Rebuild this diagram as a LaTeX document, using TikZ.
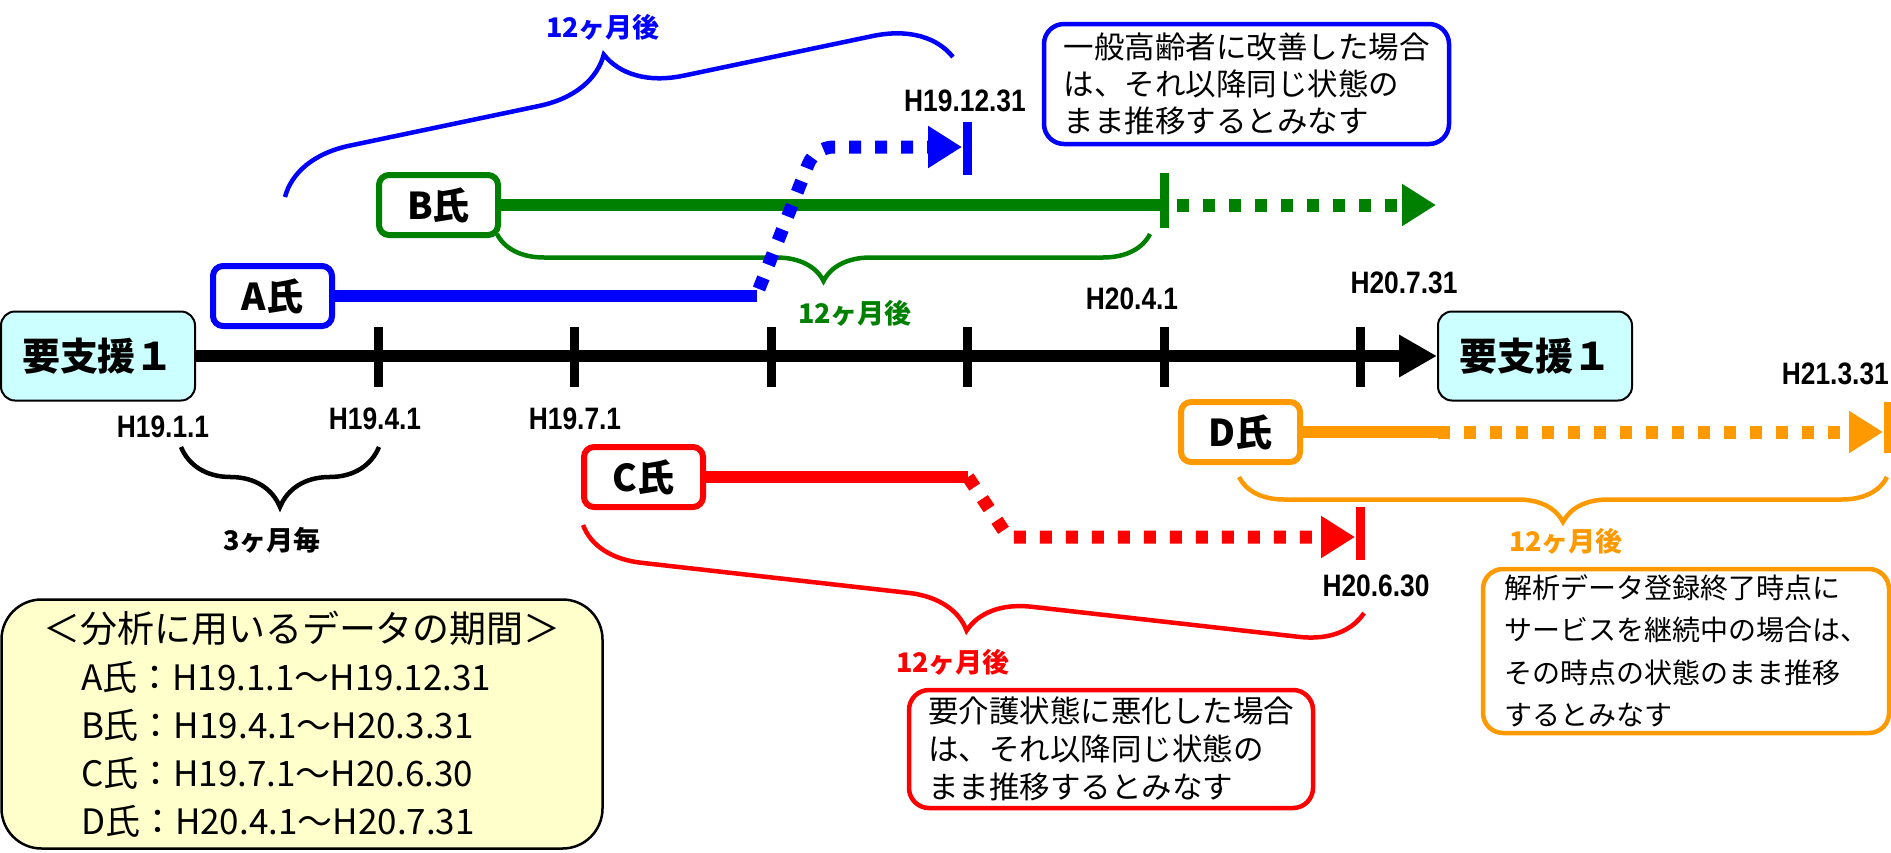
\documentclass[tikz,border=0pt]{standalone}
\usepackage{fontspec}
\setmainfont{Noto Sans CJK JP}
\newfontfamily\tickfont{Liberation Sans}[FakeStretch=0.85]
\usetikzlibrary{arrows.meta,decorations.pathreplacing}
\definecolor{cblue}{HTML}{0000FF}
\definecolor{cgreen}{HTML}{008000}
\definecolor{cred}{HTML}{FF0000}
\definecolor{corange}{HTML}{FF9900}
\definecolor{ccyan}{HTML}{CCFFFF}
\definecolor{cyellow}{HTML}{FFFFCC}
\tikzset{
  statebox/.style={draw=black,line width=2pt,fill=ccyan,rounded corners=14pt,
    minimum width=194pt,minimum height=89pt,inner sep=0pt,
    font=\fontsize{38}{40}\selectfont\bfseries},
  personbox/.style={draw=#1,line width=6pt,fill=white,rounded corners=10pt,
    minimum width=119pt,minimum height=60pt,inner sep=0pt,
    font=\fontsize{37}{38}\selectfont\bfseries},
  notebox/.style={draw=#1,line width=4.5pt,fill=white,rounded corners=20pt,
    inner sep=0pt,align=left,text=black},
  datelabel/.style={font=\tickfont\fontsize{31}{33}\selectfont\bfseries,inner sep=0pt},
  spanlabel/.style={text=#1,font=\fontsize{27}{29}\selectfont\bfseries,inner sep=0pt},
  timeline/.style={draw=black,line width=12pt},
  ticktimeline/.style={draw=black,line width=9pt},
  solidbar/.style={draw=#1,line width=12pt},
  dotbar/.style={draw=#1,line width=13pt,dash pattern=on 12pt off 14pt},
  endtick/.style={draw=#1,line width=9pt},
  curly/.style 2 args={draw=#1,line width=4.5pt,decorate,decoration={brace,amplitude=#2}},
  endarrow/.style={-{Triangle[length=34pt,width=40pt]}},
}
\begin{document}
\begin{tikzpicture}[x=1pt,y=-1pt]
\useasboundingbox (0,0) rectangle (1891,852);

% braces
\draw[curly={cblue}{74pt}] (285,197) -- (953,57);
\draw[curly={cgreen}{47pt}] (1150,234) -- (497,234);
\draw[curly={black}{60pt}] (379,447) -- (181,447);
\draw[curly={cred}{62pt}] (1364,613) -- (583,525);
\draw[curly={corange}{45pt}] (1887,477) -- (1239,477);

% brace labels
\node[spanlabel=cblue] (lb1) at (603,27) {12ヶ月後};
\node[spanlabel=cgreen] (lb2) at (855,313) {12ヶ月後};
\node[spanlabel=cred] (lb3) at (953,662) {12ヶ月後};
\node[spanlabel=corange] (lb4) at (1566,541) {12ヶ月後};
\node[spanlabel=black] (lb0) at (272,540) {3ヶ月毎};

% state boxes and time axis
\node[statebox] (lstate) at (98,356) {要支援１};
\node[statebox] (rstate) at (1535,356) {要支援１};
\draw[timeline,-{Triangle[length=38pt,width=40pt]}] (lstate.east) -- (rstate.west);
\foreach \x in {378,574,771,967,1164,1360}
  \draw[ticktimeline] (\x,327) -- (\x,387);

% date labels
\node[datelabel] (d1) at (163,427) {H19.1.1};
\node[datelabel] (d2) at (375,419) {H19.4.1};
\node[datelabel] (d3) at (575,419) {H19.7.1};
\node[datelabel] (d4) at (1132,299) {H20.4.1};
\node[datelabel] (d5) at (1404,283) {H20.7.31};
\node[datelabel] (d6) at (965,101) {H19.12.31};
\node[datelabel] (d7) at (1376,586) {H20.6.30};
\node[datelabel,anchor=east] (d8) at (1889,374) {H21.3.31};

% persons
\node[personbox=cblue] (pa) at (272.5,296) {A氏};
\node[personbox=cgreen] (pb) at (438.5,205) {B氏};
\node[personbox=cred] (pc) at (643.5,477) {C氏};
\node[personbox=corange] (pd) at (1240.5,432) {D氏};

% B
\coordinate (bend) at (1164,205);
\coordinate (bdot) at (1177,205);
\coordinate (btip) at (1436,205);
\draw[solidbar=cgreen] (pb.east) -- (bend);
\draw[endtick=cgreen] (1164,173) -- (1164,228);
\draw[dotbar=cgreen,endarrow] (bdot) -- (btip);

% A
\coordinate (aend) at (757,296);
\coordinate (adot) at (759,289);
\coordinate (abend) at (815,147);
\coordinate (atip) at (962,147);
\draw[solidbar=cblue] (pa.east) -- (aend);
\draw[dotbar=cblue,rounded corners=18pt,endarrow] (adot) -- (abend) -- (atip);
\draw[endtick=cblue] (967,122) -- (967,175);

% C
\coordinate (cend) at (968,477);
\coordinate (cbend) at (1008,537);
\coordinate (ctip) at (1355,537);
\draw[solidbar=cred] (pc.east) -- (cend);
\draw[dotbar=cred,endarrow] (cend) -- (cbend) -- (ctip);
\draw[endtick=cred] (1360,507) -- (1360,560);

% D
\coordinate (dend) at (1438,432);
\coordinate (dtip) at (1883,432);
\draw[solidbar=corange] (pd.east) -- (dend);
\draw[dotbar=corange,endarrow] (dend) -- (dtip);
\draw[endtick=corange] (1888,402) -- (1888,453);

% notes
\node[notebox=cblue,minimum width=405pt,minimum height=120pt,
  font=\fontsize{30.5}{37}\selectfont] (nb) at (1246.5,84)
  {一般高齢者に改善した場合\\は、それ以降同じ状態の\\まま推移するとみなす};
\node[notebox=cred,minimum width=404pt,minimum height=118pt,
  font=\fontsize{30.5}{38}\selectfont] (nc) at (1111,749)
  {要介護状態に悪化した場合\\は、それ以降同じ状態の\\まま推移するとみなす};
\node[notebox=corange,minimum width=406pt,minimum height=164pt,
  font=\fontsize{28}{42.3}\selectfont] (nd) at (1686,651)
  {解析データ登録終了時点に\\サービスを継続中の場合は、\\その時点の状態のまま推移\\するとみなす};

% legend
\node[draw=black,line width=2.5pt,fill=cyellow,rounded corners=40pt,
  minimum width=601pt,minimum height=249pt,inner sep=0pt,align=left,
  font=\fontsize{35}{48}\selectfont] (legend) at (302,724)
  {{\fontsize{37}{48}\selectfont ＜分析に用いるデータの期間＞}\\
   \hspace*{38pt}A氏：H19.1.1～H19.12.31\\
   \hspace*{38pt}B氏：H19.4.1～H20.3.31\\
   \hspace*{38pt}C氏：H19.7.1～H20.6.30\\
   \hspace*{38pt}D氏：H20.4.1～H20.7.31};
\end{tikzpicture}
\end{document}
